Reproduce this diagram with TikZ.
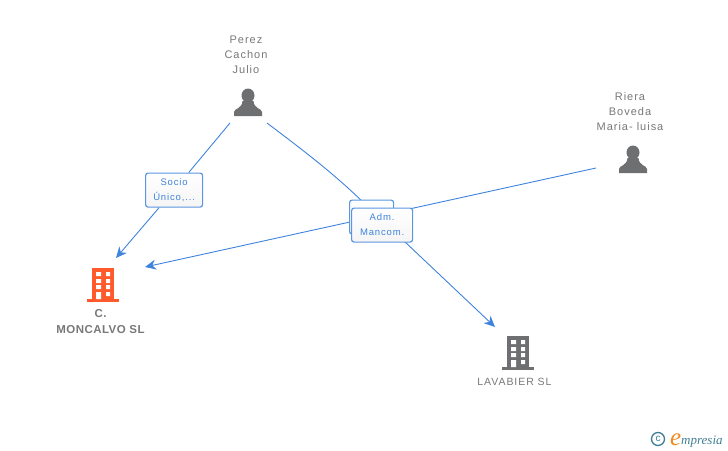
\documentclass[tikz,border=0pt]{standalone}
\usepackage{fontspec}
\setmainfont{Liberation Sans}
\newfontfamily\spaced[LetterSpace=9]{Liberation Sans}
\newfontfamily\boldspaced[LetterSpace=4]{Liberation Sans}
\newfontfamily\logofont{Liberation Serif}
\usetikzlibrary{arrows.meta}
\definecolor{linkblue}{HTML}{3F83DC}
\definecolor{txtgrey}{HTML}{77787A}
\definecolor{icongrey}{HTML}{6E6F71}
\definecolor{orangeb}{HTML}{FF5A2C}
\definecolor{logoteal}{HTML}{3F7F96}
\definecolor{logoorange}{HTML}{F08A1D}
\tikzset{
  x=1pt,y=-1pt,
  link/.style={draw=linkblue,line width=0.9pt},
  linkarrow/.style={link,-{Stealth[length=11pt,width=10pt]}},
  tag/.style={draw=linkblue!85,line width=1.2pt,rounded corners=2.5pt,top color=white,bottom color=black!4,
     inner sep=0pt,align=center,font=\fontsize{9.5}{15}\selectfont\spaced,text=linkblue,anchor=north west},
  lbl/.style={font=\fontsize{11}{15}\selectfont\spaced,text=txtgrey,align=center,inner sep=0pt},
  building/.pic={
    \fill[pic actions] (0,0) rectangle (22,31);
    \fill[pic actions] (-5,31) rectangle (27,34);
    \fill[white] (4,4) rectangle (9,8) (14,4) rectangle (18,8)
      (4,11) rectangle (9,15) (14,11) rectangle (18,15)
      (4,17) rectangle (9,21) (14,17) rectangle (18,21)
      (4,24) rectangle (9,31) (14,24) rectangle (18,28);
  },
  person/.pic={
    \fill[icongrey] (0,-20.5) circle[x radius=6.5pt,y radius=7pt];
    \fill[icongrey] (-14,0) -- (-14,-4) .. controls (-14,-7.5) and (-6,-7) .. (-5.5,-15)
      -- (5.5,-15) .. controls (6,-7) and (14,-7.5) .. (14,-4) -- (14,0) -- cycle;
  }
}
\begin{document}
\begin{tikzpicture}
\useasboundingbox (0,0) rectangle (728,450);
\node[lbl] (perez) at (246,55) {Perez\\Cachon\\Julio};
\node[lbl] (riera) at (630,112) {Riera\\Boveda\\Maria- luisa};
\pic at (248,116) {person};
\pic at (633,173) {person};
\pic[fill=orangeb] at (92,268) {building};
\pic[fill=icongrey] at (507,336) {building};
\node[lbl,font=\fontsize{11.5}{15.5}\selectfont\boldspaced\bfseries] (cm) at (100.5,321.5) {C.\\MONCALVO SL};
\node[lbl,font=\fontsize{10.5}{15}\selectfont\spaced] (lav) at (514.5,382) {LAVABIER SL};
\coordinate (pa) at (230,123);
\coordinate (pb) at (267,123);
\coordinate (ra) at (596,168);
\coordinate (c1) at (116,258);
\coordinate (c2) at (145,267);
\coordinate (l1) at (495,327);
\coordinate (m1) at (368,207);
\node[tag,minimum width=57pt,minimum height=34pt] (socio) at (145,172.5) {Socio\\Único,...};
\draw[link] (pa) -- (socio);
\draw[linkarrow] (socio) -- (c1);
\draw[linkarrow] (ra) -- (c2);
\draw[linkarrow] (pb) .. controls (300,148) and (335,174) .. (m1) -- (l1);
\node[tag,minimum width=44pt,minimum height=34pt] (back) at (349,199.5) {};
\node[tag,minimum width=61pt,minimum height=34pt] (adm) at (351,207.5) {Adm.\\Mancom.};
\draw[logoteal,line width=1.3pt] (658,439) circle[radius=6.5pt];
\node[inner sep=0pt,text=logoteal,font=\fontsize{10}{10}\selectfont] (cpy) at (658,438.5) {c};
\node[inner sep=0pt,anchor=base west,text=logoorange,font=\fontsize{25}{25}\selectfont\logofont\itshape] (elogo) at (670,445) {e};
\node[inner sep=0pt,anchor=base west,text=logoteal,font=\fontsize{13}{13}\selectfont\logofont\itshape] (mp) at (681,444) {mpresia};
\end{tikzpicture}
\end{document}
